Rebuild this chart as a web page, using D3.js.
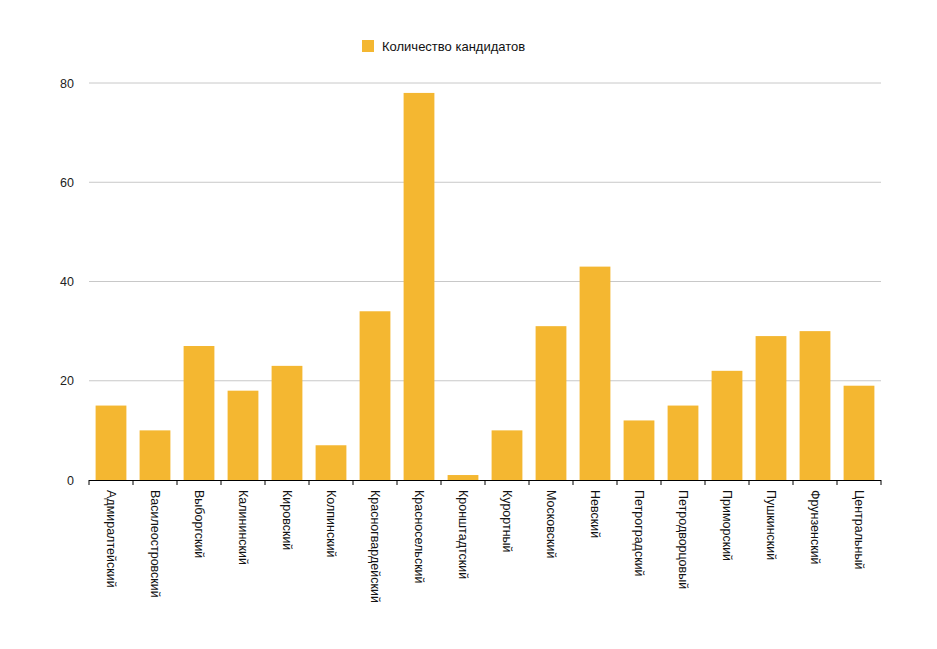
<!DOCTYPE html>
<html><head><meta charset="utf-8">
<script src="https://cdn.jsdelivr.net/npm/d3@7"></script>
<style>body{margin:0;background:#fff;} text{font-family:"Liberation Sans",Arial,sans-serif;}</style>
</head><body>
<svg id="c" width="937" height="649"></svg>
<script>
const categories = ["Адмиралтейский","Василеостровский","Выборгский","Калининский","Кировский","Колпинский","Красногвардейский","Красносельский","Кронштадтский","Курортный","Московский","Невский","Петроградский","Петродворцовый","Приморский","Пушкинский","Фрунзенский","Центральный"];
const values = [15,10,27,18,23,7,34,78,1,10,31,43,12,15,22,29,30,19];
const yTicks = [0,20,40,60,80];
const seriesName = "Количество кандидатов";
const color = "#F4B731";

const svg = d3.select("#c");
const m = {left:89, right:881, top:83, bottom:480};
const x = d3.scaleBand().domain(categories).range([m.left,m.right]).paddingInner(0.3).paddingOuter(0.15);
const y = d3.scaleLinear().domain([0,80]).range([m.bottom,m.top]);

// grid
svg.append("g").selectAll("line").data(yTicks.filter(d=>d>0)).join("line")
  .attr("x1",m.left).attr("x2",m.right).attr("y1",d=>y(d)).attr("y2",d=>y(d))
  .attr("stroke","#c8c8c8").attr("stroke-width",1);
// y labels
svg.append("g").selectAll("text").data(yTicks).join("text")
  .attr("x",74).attr("y",d=>y(d)+4.5).attr("text-anchor","end")
  .attr("font-size",12.5).attr("fill","#222").text(d=>d);
// bars
svg.append("g").selectAll("rect").data(values).join("rect")
  .attr("x",(d,i)=>x(categories[i])).attr("width",x.bandwidth())
  .attr("y",d=>y(d)).attr("height",d=>y(0)-y(d)).attr("fill",color);
// x axis
const bounds = d3.range(categories.length+1).map(i=>m.left + i*(m.right-m.left)/categories.length);
svg.append("line").attr("x1",m.left).attr("x2",m.right).attr("y1",m.bottom+0.5).attr("y2",m.bottom+0.5).attr("stroke","#000");
svg.append("g").selectAll("line").data(bounds).join("line")
  .attr("x1",d=>d).attr("x2",d=>d).attr("y1",m.bottom).attr("y2",m.bottom+5).attr("stroke","#000");
svg.append("g").selectAll("text").data(categories).join("text")
  .attr("transform",d=>`translate(${x(d)+x.bandwidth()/2-4.5},${m.bottom+10}) rotate(90)`)
  .attr("text-anchor","start").attr("font-size",12.5).attr("fill","#111").text(d=>d);
// legend
svg.append("rect").attr("x",362).attr("y",40).attr("width",12).attr("height",12).attr("fill",color);
svg.append("text").attr("x",382).attr("y",51).attr("font-size",13).attr("fill","#111").text(seriesName);
</script>
</body></html>
